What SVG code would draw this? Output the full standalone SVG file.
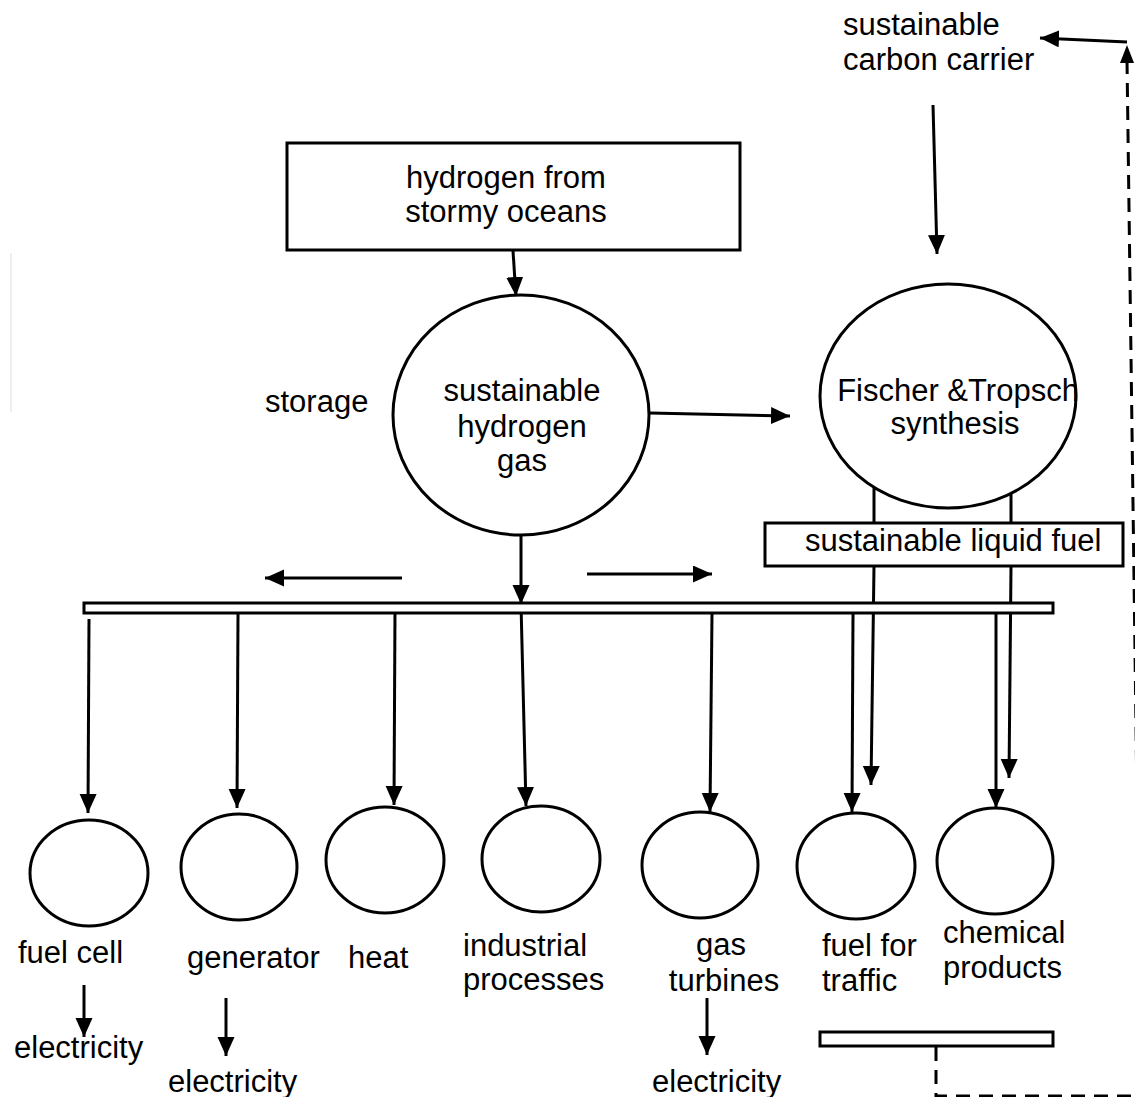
<svg xmlns="http://www.w3.org/2000/svg" width="1135" height="1097" viewBox="0 0 1135 1097">
<style>
text{font-family:"Liberation Sans",Arial,sans-serif;font-size:31px;fill:#000}
.c{text-anchor:middle}
.shape{fill:#fff;stroke:#000;stroke-width:3}
.ln{fill:none;stroke:#000;stroke-width:3}
.ar{fill:none;stroke:#000;stroke-width:3;marker-end:url(#ah)}
.dash{fill:none;stroke:#000;stroke-width:3;stroke-dasharray:14 9}
</style>
<defs>
<marker id="ah" markerUnits="userSpaceOnUse" markerWidth="20" markerHeight="18" refX="19" refY="8.5" orient="auto">
<path d="M0,0 L19,8.5 L0,17 z" fill="#000"/>
</marker>
</defs>
<rect width="1135" height="1097" fill="#fff"/>
<line x1="11" y1="253" x2="11" y2="412" stroke="#eeeeee" stroke-width="2"/>

<g id="connectors">
<line class="ar" x1="513" y1="251" x2="516" y2="296"/>
<line class="ar" x1="650" y1="413" x2="790" y2="416"/>
<line class="ar" x1="933" y1="105" x2="937" y2="254"/>
<line class="ar" x1="521" y1="535" x2="521" y2="604"/>
<line class="ar" x1="402" y1="578" x2="265" y2="578"/>
<line class="ar" x1="587" y1="574" x2="712" y2="574"/>
<line class="ar" x1="89" y1="619" x2="88" y2="813"/>
<line class="ar" x1="238" y1="614" x2="237" y2="808"/>
<line class="ar" x1="395" y1="610" x2="394" y2="805"/>
<line class="ar" x1="521" y1="604" x2="526" y2="806"/>
<line class="ar" x1="712" y1="614" x2="710" y2="812"/>
<line class="ar" x1="853" y1="614" x2="852" y2="812"/>
<line class="ar" x1="996" y1="614" x2="996" y2="808"/>
<line class="ln" x1="874" y1="487" x2="874" y2="523"/>
<line class="ln" x1="1011" y1="493" x2="1011" y2="523"/>
<line class="ar" x1="874" y1="566" x2="871" y2="785"/>
<line class="ar" x1="1011" y1="566" x2="1009" y2="778"/>
<line class="ar" x1="84" y1="985" x2="84" y2="1037"/>
<line class="ar" x1="226" y1="998" x2="226" y2="1056"/>
<line class="ar" x1="707" y1="998" x2="707" y2="1055"/>
<polyline class="dash" points="936,1047 936,1096 1135,1096"/>
<line class="dash" x1="1127" y1="60" x2="1141" y2="1096"/>
<path d="M1120,63 L1127,45 L1134,63 z" fill="#000"/>
<line class="ar" x1="1127" y1="42" x2="1040" y2="38"/>
</g>

<g id="carbon-carrier">
<text x="843" y="35">sustainable</text>
<text x="843" y="70">carbon carrier</text>
</g>

<g id="hydrogen-oceans">
<rect class="shape" x="287" y="143" width="453" height="107"/>
<text class="c" x="506" y="188">hydrogen from</text>
<text class="c" x="506" y="222">stormy oceans</text>
</g>

<g id="storage">
<text x="265" y="412">storage</text>
</g>

<g id="hydrogen-gas">
<ellipse class="shape" cx="521" cy="415" rx="128" ry="120"/>
<text class="c" x="522" y="401">sustainable</text>
<text class="c" x="522" y="437">hydrogen</text>
<text class="c" x="522" y="471">gas</text>
</g>

<g id="fischer-tropsch">
<ellipse class="shape" cx="948" cy="396" rx="128" ry="112"/>
<text class="c" x="958" y="401">Fischer &amp;Tropsch</text>
<text class="c" x="955" y="434">synthesis</text>
</g>

<g id="liquid-fuel">
<rect class="shape" x="765" y="523" width="358" height="43"/>
<text x="805" y="551">sustainable liquid fuel</text>
</g>

<g id="distribution-bar">
<rect class="shape" x="84" y="603" width="969" height="10"/>
</g>

<g id="fuel-cell">
<ellipse class="shape" cx="89" cy="873" rx="59" ry="53"/>
<text x="18" y="963">fuel cell</text>
</g>
<g id="generator">
<ellipse class="shape" cx="239" cy="867" rx="58" ry="53"/>
<text x="187" y="968">generator</text>
</g>
<g id="heat">
<ellipse class="shape" cx="385" cy="860" rx="59" ry="53"/>
<text x="348" y="968">heat</text>
</g>
<g id="industrial">
<ellipse class="shape" cx="541" cy="859" rx="59" ry="53"/>
<text x="463" y="956">industrial</text>
<text x="463" y="990">processes</text>
</g>
<g id="gas-turbines">
<ellipse class="shape" cx="700" cy="865" rx="58" ry="53"/>
<text class="c" x="721" y="955">gas</text>
<text class="c" x="724" y="991">turbines</text>
</g>
<g id="fuel-traffic">
<ellipse class="shape" cx="856" cy="866" rx="59" ry="53"/>
<text x="822" y="956">fuel for</text>
<text x="822" y="991">traffic</text>
</g>
<g id="chemical">
<ellipse class="shape" cx="995" cy="861" rx="58" ry="53"/>
<text x="943" y="943">chemical</text>
<text x="943" y="978">products</text>
</g>

<g id="electricity-1"><text x="14" y="1058">electricity</text></g>
<g id="electricity-2"><text x="168" y="1092">electricity</text></g>
<g id="electricity-3"><text x="652" y="1092">electricity</text></g>

<g id="collector">
<rect class="shape" x="820" y="1032" width="233" height="14"/>
</g>
</svg>
